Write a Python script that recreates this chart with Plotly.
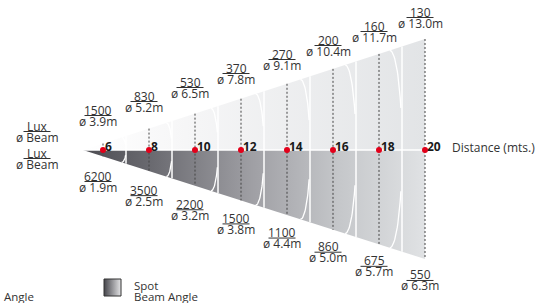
import numpy as np
import plotly.graph_objects as go

# ---------------- data ----------------
distances = [6, 8, 10, 12, 14, 16, 18, 20]
wide_lux = [1500, 830, 530, 370, 270, 200, 160, 130]
wide_beam = [3.9, 5.2, 6.5, 7.8, 9.1, 10.4, 11.7, 13.0]
spot_lux = [6200, 3500, 2200, 1500, 1100, 860, 675, 550]
spot_beam = [1.9, 2.5, 3.2, 3.8, 4.4, 5.0, 5.7, 6.3]
separators = [7, 9, 11, 13, 15, 17, 19]

# ---------------- geometry / style ----------------
W, H = 543, 303
PX_PER_M = 23.0
X0_PX = 103
AXIS_PX = 150
FONT = "Open Sans"
TXT = "#333333"
FS = 12


def xd(px):
    return 6 + (px - X0_PX) / PX_PER_M


def yd(py):
    return AXIS_PX - py


x_range = [xd(0), xd(W)]
y_range = [AXIS_PX - H, AXIS_PX]

apex = xd(83)
end = distances[-1]
TOP_END = 111
BOT_END = 109


def top(d):
    return TOP_END * (d - apex) / (end - apex)


def bot(d):
    return BOT_END * (d - apex) / (end - apex)


fig = go.Figure()

# top (wide) cone
fig.add_trace(go.Scatter(
    x=[apex, end, end, apex], y=[0, top(end), 0, 0], mode="lines",
    fill="toself", line=dict(width=0),
    fillgradient=dict(type="horizontal",
                      colorscale=[[0, "#ffffff"], [0.3, "#f6f6f7"], [1, "#e2e4e6"]]),
    hoverinfo="skip", showlegend=False))

# bottom (spot) cone
fig.add_trace(go.Scatter(
    x=[apex, end, end, apex], y=[0, 0, -bot(end), 0], mode="lines",
    fill="toself", line=dict(width=0),
    fillgradient=dict(type="horizontal",
                      colorscale=[[0, "#4c4c52"], [0.2, "#6a6a70"],
                                  [0.5, "#a0a0a5"], [0.75, "#c5c7ca"], [1, "#e0e2e4"]]),
    hoverinfo="skip", showlegend=False))

# white separators
sx, sy = [], []
for s in separators:
    sx += [s, s, None]
    sy += [top(s), -bot(s), None]
fig.add_trace(go.Scatter(x=sx, y=sy, mode="lines", line=dict(color="white", width=1.5),
                         hoverinfo="skip", showlegend=False))

# white arcs (slice fronts)
ax, ay = [], []
t = np.linspace(np.pi / 2, np.radians(25), 20)
for s in separators:
    hpx = bot(s)
    w = (3 + 0.09 * hpx) / PX_PER_M
    c = s - w
    ht = top(c)
    hb = bot(c)
    ax += list(c + w * np.cos(t)) + [None]
    ay += list(-hb * np.sin(t)) + [None]
    ax += list(c + w * np.cos(t)) + [None]
    ay += list(ht * np.sin(t)) + [None]
fig.add_trace(go.Scatter(x=ax, y=ay, mode="lines", line=dict(color="white", width=1.3),
                         hoverinfo="skip", showlegend=False))

# white axis line
fig.add_trace(go.Scatter(x=[apex, end], y=[0, 0], mode="lines",
                         line=dict(color="white", width=1.5),
                         hoverinfo="skip", showlegend=False))

# dotted distance lines
dx, dy = [], []
for d in distances:
    dx += [d, d, None]
    dy += [top(d), -bot(d), None]
fig.add_trace(go.Scatter(x=dx, y=dy, mode="lines",
                         line=dict(color="#444444", width=1, dash="2px,2px"),
                         hoverinfo="skip", showlegend=False))

# red points
fig.add_trace(go.Scatter(x=distances, y=[0] * len(distances), mode="markers",
                         marker=dict(color="#e2001a", size=6),
                         hoverinfo="skip", showlegend=False))

# legend key square
kx0, kx1 = xd(104), xd(121)
ky0, ky1 = yd(279), yd(296)
fig.add_trace(go.Scatter(
    x=[kx0, kx1, kx1, kx0, kx0], y=[ky0, ky0, ky1, ky1, ky0], mode="lines",
    fill="toself", line=dict(color="#333333", width=1),
    fillgradient=dict(type="horizontal",
                      colorscale=[[0, "#45454b"], [1, "#e4e4e6"]]),
    hoverinfo="skip", showlegend=False))

ann = []
shapes = []
UL = 27 / PX_PER_M


def fraction(xc, ylux, lux, beam):
    ann.append(dict(x=xc, y=ylux, text=str(lux), showarrow=False, xanchor="center",
                    yanchor="middle", borderpad=0,
                    font=dict(family=FONT, size=FS, color=TXT)))
    ann.append(dict(x=xc, y=ylux - 11, text=beam, showarrow=False, xanchor="center",
                    yanchor="middle", borderpad=0,
                    font=dict(family=FONT, size=FS, color=TXT)))
    shapes.append(dict(type="line", x0=xc - UL / 2, x1=xc + UL / 2,
                       y0=ylux - 5.5, y1=ylux - 5.5, line=dict(color=TXT, width=1)))


LBL_DX = -5 / PX_PER_M
for d, lx, bm in zip(distances, wide_lux, wide_beam):
    fraction(d + LBL_DX, 40 + 7.0 * (d - 6), lx, f"ø {bm:.1f}m")
for d, lx, bm in zip(distances, spot_lux, spot_beam):
    fraction(d + LBL_DX, -26 - 7.07 * (d - 6), lx, f"ø {bm:.1f}m")

# left row labels
fraction(xd(37), yd(126), "Lux", "ø Beam")
fraction(xd(37), yd(153), "Lux", "ø Beam")

# distance tick labels
for d in distances:
    ann.append(dict(x=d, y=yd(146), text=f"<b>{d}</b>", showarrow=False, xanchor="left",
                    xshift=1, yanchor="middle", borderpad=0,
                    font=dict(family=FONT, size=FS, color="#1a1a1a")))
ann.append(dict(x=xd(451), y=yd(147), text="Distance (mts.)", showarrow=False,
                xanchor="left", yanchor="middle", borderpad=0,
                font=dict(family=FONT, size=FS, color=TXT)))

# legend texts
ann.append(dict(x=xd(133), y=yd(285), text="Spot", showarrow=False, xanchor="left",
                yanchor="middle", borderpad=0, font=dict(family=FONT, size=11.5, color=TXT)))
ann.append(dict(x=xd(133), y=yd(296), text="Beam Angle", showarrow=False, xanchor="left",
                yanchor="middle", borderpad=0, font=dict(family=FONT, size=11.5, color=TXT)))
ann.append(dict(x=xd(3), y=yd(296), text="Angle", showarrow=False, xanchor="left",
                yanchor="middle", borderpad=0, font=dict(family=FONT, size=11.5, color=TXT)))

fig.update_layout(
    width=W, height=H, margin=dict(l=0, r=0, t=0, b=0),
    paper_bgcolor="white", plot_bgcolor="white",
    xaxis=dict(range=x_range, visible=False, fixedrange=True),
    yaxis=dict(range=y_range, visible=False, fixedrange=True),
    annotations=ann, shapes=shapes, showlegend=False,
)
fig.write_html("out.html", config={"displayModeBar": False},
               post_script="document.body.style.margin='0';document.body.style.overflow='hidden';")
